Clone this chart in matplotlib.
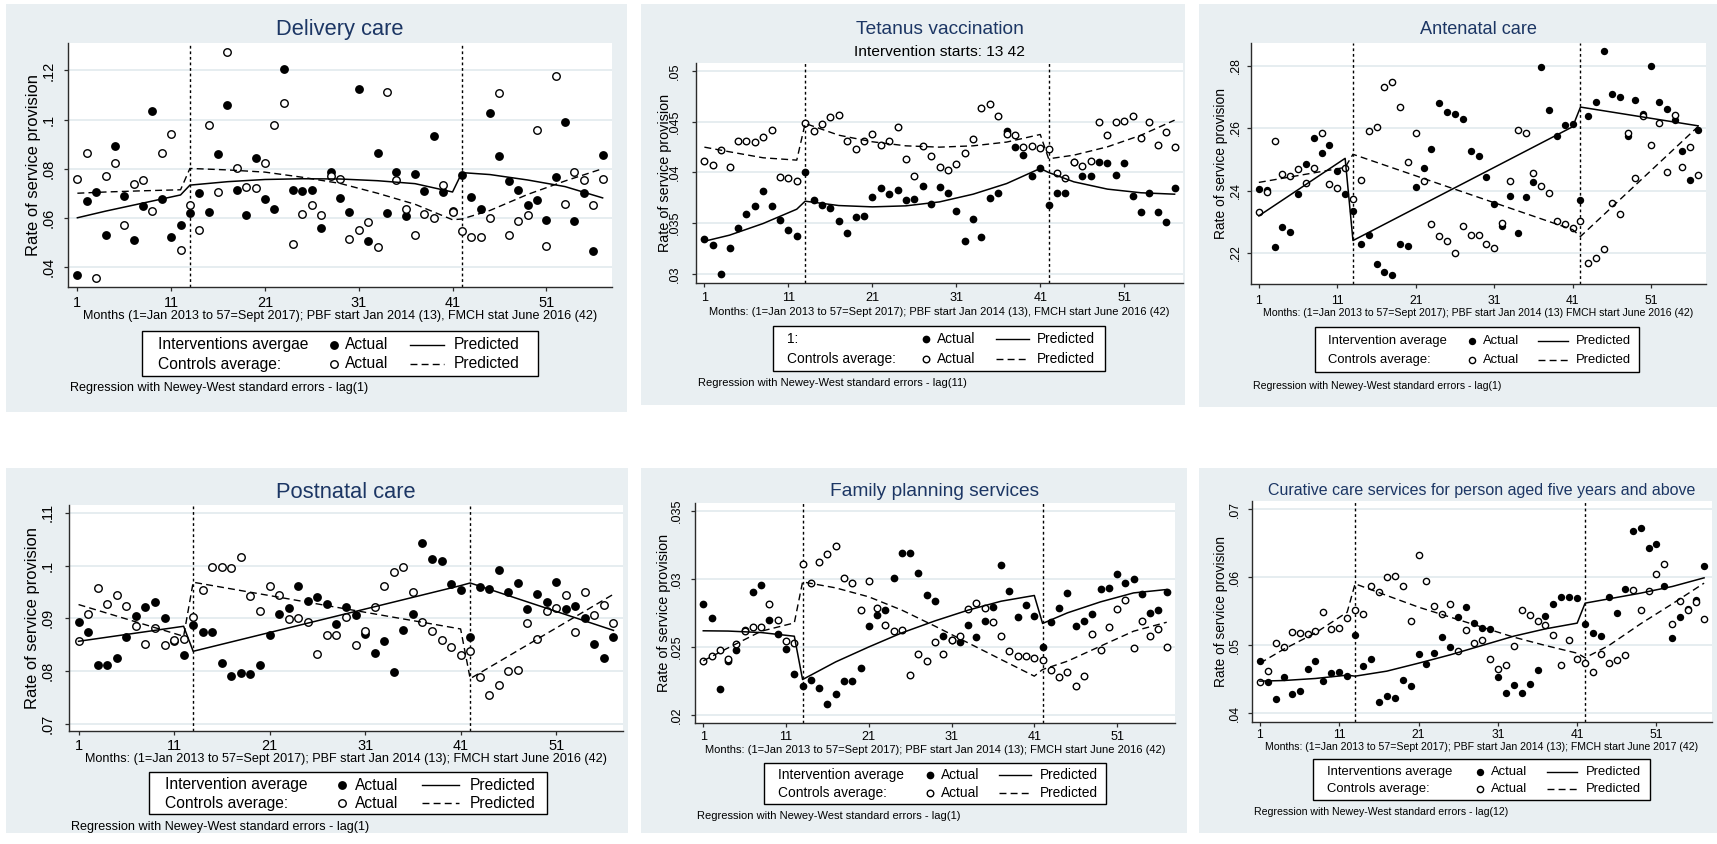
import matplotlib
matplotlib.use('Agg')
import matplotlib.pyplot as plt
from matplotlib.patches import Rectangle
from matplotlib.lines import Line2D

plt.rcParams['font.family'] = ['Liberation Sans', 'DejaVu Sans']

W, H = 1717, 844
months = list(range(1, 58))
xticks = [1, 11, 21, 31, 41, 51]
starts = [13, 42]

# ---- Delivery care ----
delivery_int = [.0365, .0667, .0707, .0528, .0893, .0688, .0510, .0646, .1035, .0675, .0522, .0571,
                .0619, .0702, .0624, .0860, .1059, .0712, .0611, .0844, .0676, .0635, .1205, .0712,
                .0710, .0713, .0559, .0786, .0679, .0624, .1124, .0507, .0864, .0620, .0785, .0607,
                .0780, .0709, .0933, .0703, .0626, .0774, .0683, .0635, .1027, .0850, .0751, .0714,
                .0653, .0672, .0589, .0766, .0992, .0588, .0702, .0464, .0857]
delivery_ctl = [.0757, .0863, .0354, .0769, .0822, .0569, .0736, .0754, .0629, .0864, .0940, .0469,
                .0652, .0550, .0978, .0706, .1276, .0803, .0724, .0721, .0822, .0978, .1067, .0495,
                .0615, .0652, .0611, .0771, .0758, .0514, .0551, .0584, .0482, .1114, .0752, .0635,
                .0531, .0616, .0599, .0732, .0623, .0548, .0520, .0520, .0600, .1110, .0529, .0585,
                .0611, .0956, .0484, .1176, .0657, .0785, .0752, .0654, .0757]
delivery_pm = [1, 4, 8, 12, 13, 17, 21, 25, 29, 33, 37, 41, 42, 45, 49, 53, 57]
delivery_int_pred = [.0600, .0627, .0660, .0693, .0733, .0747, .0756, .0759, .0758, .0751, .0739, .0705,
                     .0784, .0776, .0754, .0727, .0681]
delivery_ctl_pred = [.0700, .0705, .0710, .0714, .0801, .0795, .0786, .0765, .0740, .0700, .0655, .0592,
                     .0595, .0630, .0695, .0750, .0800]

# ---- Tetanus vaccination ----
tetanus_int = [.03345, .0328, .0300, .0326, .03454, .03589, .03674, .03816, .03668, .0353, .03434, .03378,
               .0400, .03727, .03681, .03648, .03526, .03408, .03559, .03566, .03763, .03849, .03786, .03826,
               .0373, .03743, .03865, .03694, .03852, .03796, .03622, .03322, .03546, .03368, .0375, .038,
               .04414, .0425, .04171, .03964, .04049, .03684, .03796, .03796, .04102, .03967, .03964, .04105,
               .04095, .0398, .04089, .0377, .03609, .038, .03609, .0351, .03849]
tetanus_ctl = [.04118, .04072, .04217, .04053, .04306, .04306, .04303, .04355, .04418, .0396, .03944, .03914,
               .04493, .04408, .04477, .04546, .04563, .04306, .0423, .04309, .04382, .0427, .04306, .04447,
               .04135, .03964, .04263, .04164, .04059, .04023, .04082, .04194, .04332, .04632, .04671, .04556,
               .04382, .04368, .04247, .04257, .0424, .04227, .03997, .03947, .04108, .04066, .04112, .045,
               .04365, .045, .0451, .04556, .04345, .045, .0427, .04398, .0425]
tetanus_pm = [1, 4, 8, 12, 13, 17, 21, 25, 29, 33, 37, 41, 42, 45, 49, 53, 57]
tetanus_int_pred = [.03322, .03382, .03497, .03638, .03717, .03674, .03661, .03671, .0371, .03786, .03891,
                    .0404, .0400, .03908, .03836, .038, .03786]
tetanus_ctl_pred = [.0425, .04204, .04145, .04122, .04484, .04368, .04303, .04263, .0425, .04263, .043,
                    .04375, .04135, .04171, .04253, .04368, .04516]

# ---- Antenatal care ----
antenatal_int = [.2405, .2402, .2219, .2282, .2266, .2390, .2486, .2569, .2520, .2547, .2464, .2390,
                 .2334, .2230, .2258, .2165, .2140, .2130, .2229, .2221, .2411, .2472, .2533, .2681,
                 .2651, .2646, .2629, .2528, .2509, .2443, .2357, .2287, .2381, .2264, .2379, .2428,
                 .2796, .2658, .2573, .2609, .2613, .2369, .2639, .2683, .2846, .2710, .2699, .2573,
                 .2689, .2646, .2799, .2684, .2662, .2626, .2528, .2435, .2595]
antenatal_ctl = [.2330, .2395, .2559, .2454, .2446, .2470, .2425, .2471, .2583, .2422, .2408, .2472,
                 .2372, .2433, .2591, .2604, .2731, .2748, .2667, .2492, .2584, .2431, .2294, .2256,
                 .2239, .2201, .2288, .2258, .2258, .2229, .2217, .2296, .2430, .2594, .2585, .2456,
                 .2413, .2392, .2304, .2293, .2280, .2304, .2168, .2183, .2213, .2361, .2325, .2584,
                 .2440, .2640, .2546, .2616, .2458, .2642, .2475, .2538, .2451]
antenatal_pm = [1, 12, 13, 41, 42, 57]
antenatal_int_pred = [.2319, .2503, .2240, .2604, .2667, .2607]
antenatal_ctl_pred = [.2426, .2474, .2516, .2275, .2253, .2605]

# ---- Postnatal care ----
postnatal_int = [.08924, .0874, .0812, .0812, .08247, .08646, .09044, .09215, .09316, .0900, .08576, .0831,
                 .0888, .08747, .08747, .08152, .07899, .07968, .07943, .08108, .0869, .09089, .0919, .0962,
                 .09323, .09405, .09278, .08892, .09209, .09057, .08696, .08342, .0857, .07981, .08772, .09082,
                 .10437, .1012, .10095, .09646, .09538, .08639, .09589, .09551, .09911, .09506, .09677, .09171,
                 .09456, .09304, .09684, .09184, .0924, .0900, .08513, .0824, .08639]
postnatal_ctl = [.08576, .09082, .09582, .09278, .09443, .09228, .08861, .08519, .08816, .0850, .0858, .08614,
                 .09025, .09532, .09981, .09981, .09962, .10158, .09418, .09133, .09608, .09449, .08981, .09013,
                 .0893, .08316, .08684, .08684, .09025, .0850, .08753, .09222, .0962, .09886, .09968, .09494,
                 .08937, .08766, .08595, .08462, .08297, .08386, .07886, .07538, .0774, .07994, .08013, .08905,
                 .08614, .09146, .09203, .09449, .08747, .09506, .0907, .09253, .08905]
postnatal_pm = [1, 12, 13, 41, 42, 57]
postnatal_int_pred = [.08563, .08848, .08373, .0962, .0967, .0877]
postnatal_ctl_pred = [.0926, .08658, .09684, .08797, .07854, .09456]

# ---- Family planning services ----
family_int = [.02815, .02712, .02191, .024, .02481, .02623, .02906, .02957, .02697, .02594, .02484, .02302,
              .02216, .0226, .02199, .02081, .02155, .0225, .0225, .02346, .02653, .02736, .02771, .03011,
              .03195, .03193, .03041, .02881, .02839, .02577, .02552, .02538, .0266, .02574, .0269, .02795,
              .03102, .02911, .02724, .0281, .02729, .02503, .02682, .0279, .02898, .02655, .02692, .02746,
              .02928, .02933, .03036, .02974, .02999, .02889, .02749, .02771, .02903]
family_ctl = [.02398, .02432, .02474, .02412, .02523, .0262, .02648, .02646, .02815, .02702, .02542, .0253,
              .03112, .0297, .03124, .03188, .0324, .03006, .02972, .02773, .02984, .02788, .02663, .02619,
              .02628, .02292, .02447, .02395, .02538, .02449, .0255, .02584, .02778, .02825, .0279, .02682,
              .02584, .02469, .0243, .02432, .02415, .02407, .02331, .02277, .02317, .02209, .02285, .02594,
              .02479, .02648, .02781, .02849, .02493, .02692, .02584, .02633, .025]
family_pm = [1, 4, 8, 12, 13, 17, 21, 25, 29, 33, 37, 41, 42, 45, 49, 53, 57]
family_int_pred = [.02619, .02617, .02606, .02579, .0226, .0239, .0250, .02604, .02692, .02771, .02837,
                   .02879, .02673, .02751, .02832, .02898, .02923]
family_ctl_pred = [.02398, .02493, .02616, .02677, .02979, .02935, .02869, .02771, .02653, .0253, .02407,
                   .02285, .02334, .02395, .02506, .02616, .02682]

# ---- Curative care ----
curative_int = [.0477, .04451, .04201, .04525, .04275, .04333, .04647, .04765, .0448, .04593, .04608, .04549,
                .05147, .04696, .04794, .04167, .04255, .04221, .04485, .04402, .04873, .04716, .04882, .05118,
                .04966, .05417, .05554, .05319, .0525, .0524, .04539, .04299, .04417, .04294, .04436, .04642,
                .05431, .05603, .05711, .05711, .05691, .05314, .05186, .05137, .05706, .05475, .05828, .06676,
                .06716, .06422, .06495, .05868, .05103, .05407, .05529, .05657, .06162]
curative_ctl = [.04461, .04618, .05029, .04971, .05196, .05186, .05162, .05211, .05485, .05235, .05255, .05402,
                .0551, .05456, .05863, .05779, .06, .06015, .05863, .05358, .06324, .05941, .05578, .05461,
                .05598, .04912, .05221, .05029, .05074, .04794, .04652, .04706, .04985, .0552, .05446, .05353,
                .05294, .05147, .04711, .05069, .04799, .04745, .04603, .04877, .04745, .04775, .04858, .05809,
                .0551, .05794, .06049, .06196, .05309, .05647, .0552, .0563, .05387]
curative_pm = [1, 4, 8, 12, 13, 17, 21, 25, 29, 33, 37, 41, 42, 45, 49, 53, 57]
curative_int_pred = [.04471, .0448, .0451, .04559, .04544, .04618, .04735, .04858, .04995, .05132, .0524,
                     .05324, .05618, .05681, .05765, .05863, .0599]
curative_ctl_pred = [.04735, .0494, .0518, .05485, .05902, .0573, .05559, .05412, .05265, .05118, .04995,
                     .04882, .04814, .04995, .05314, .05608, .05912]

BG = '#e9eff2'
GRID = '#dfe8ec'
TITLE_C = '#1c3664'
AX_C = '#2b2b2b'

fig = plt.figure(figsize=(W / 100, H / 100), dpi=100)
fig.patch.set_facecolor('white')


def fx(x):
    return x / W


def fy(y):
    return 1 - y / H


def ftext(x, y, s, **kw):
    fig.text(fx(x), fy(y), s, **kw)


def draw_panel(p):
    s = p['s']
    bx0, by0, bx1, by1 = p['bg']
    fig.add_artist(Rectangle((fx(bx0), fy(by1)), (bx1 - bx0) / W, (by1 - by0) / H,
                             transform=fig.transFigure, fc=BG, ec='none', zorder=-5))
    x0, y0, x1, y1 = p['ax']
    ax = fig.add_axes([fx(x0), fy(y1), (x1 - x0) / W, (y1 - y0) / H])
    ax.set_facecolor('white')

    ax.scatter(months, p['int'], s=(5.3 * s) ** 2, c='black', zorder=3, linewidths=0)
    ax.scatter(months, p['ctl'], s=(4.5 * s) ** 2, facecolors='white', edgecolors='black',
               linewidths=1.0, zorder=3)
    ax.plot(p['pm'], p['int_pred'], color='black', lw=1.1, zorder=4)
    ax.plot(p['pm'], p['ctl_pred'], color='black', lw=1.0, ls=(0, (5, 3)), zorder=4)
    for m in starts:
        ax.axvline(m, color='black', lw=1.0, ls=(0, (2, 2)), zorder=2)

    ax.set_xlim(0.0, 58.0)
    ax.set_ylim(*p['ylim'])
    ax.set_xticks(xticks)
    ax.set_yticks(p['yticks'])
    ax.set_yticklabels(p['ylabels'])
    ax.yaxis.grid(True, color=GRID, lw=1.1, zorder=0)
    ax.set_axisbelow(True)
    for side in ['top', 'right']:
        ax.spines[side].set_visible(False)
    for side in ['left', 'bottom']:
        ax.spines[side].set_color(AX_C)
        ax.spines[side].set_linewidth(1.0)

    tick_fs = 8.7 * s
    fs_px = tick_fs * 100 / 72
    tl = 4.0
    xpad = (p['xt_y'] - y1) - tl - 0.55 * fs_px
    ypad = p['yt_dx'] - tl - 0.57 * fs_px
    ax.tick_params(axis='x', length=tl * 0.72, width=0.9, color=AX_C, pad=xpad * 0.72,
                   labelsize=tick_fs)
    ax.tick_params(axis='y', length=tl * 0.72, width=0.9, color=AX_C, pad=ypad * 0.72,
                   labelsize=tick_fs)
    for t in ax.get_yticklabels():
        t.set_rotation(90)
        t.set_va('center')
        t.set_ha('right')

    ax.set_ylabel('Rate of service provision', fontsize=9.9 * s)
    ax.yaxis.set_label_coords(-p['yl_dx'] / (x1 - x0), 0.5)
    ax.yaxis.label.set_va('center')

    cx = (x0 + x1) / 2
    ftext(cx, p['title_y'], p['title'], ha='center', va='center',
          fontsize=p.get('title_fs', 13.1 * s), color=TITLE_C)
    if p.get('subtitle'):
        ftext(cx, p['sub_y'], p['subtitle'], ha='center', va='center', fontsize=10.6 * s)
    ftext(cx, p['xl_y'], p['xlabel'], ha='center', va='center', fontsize=7.6 * s)
    ftext(x0 + 2, p['note_y'], p['note'], ha='left', va='center', fontsize=7.6 * s)

    # legend box
    lx0, ly0, lx1, ly1 = p['leg_box']
    fig.add_artist(Rectangle((fx(lx0), fy(ly1)), (lx1 - lx0) / W, (ly1 - ly0) / H,
                             transform=fig.transFigure, fc='white', ec='black', lw=1.0, zorder=5))
    tx, mx, atx, l0, l1, ptx = p['leg_cols']
    leg_fs = 9.4 * s
    for row, lab, filled, ls in [(p['leg_rows'][0], p['leg_labels'][0], True, '-'),
                                 (p['leg_rows'][1], p['leg_labels'][1], False, (0, (5, 3)))]:
        ftext(tx, row, lab, ha='left', va='center', fontsize=leg_fs, zorder=6)
        ftext(atx, row, 'Actual', ha='left', va='center', fontsize=leg_fs, zorder=6)
        ftext(ptx, row, 'Predicted', ha='left', va='center', fontsize=leg_fs, zorder=6)
        if filled:
            fig.add_artist(Line2D([fx(mx)], [fy(row)], transform=fig.transFigure, marker='o',
                                  ms=5.3 * s, mfc='black', mec='black', mew=0, ls='none', zorder=6))
        else:
            fig.add_artist(Line2D([fx(mx)], [fy(row)], transform=fig.transFigure, marker='o',
                                  ms=4.5 * s, mfc='white', mec='black', mew=1.0, ls='none', zorder=6))
        fig.add_artist(Line2D([fx(l0), fx(l1)], [fy(row), fy(row)], transform=fig.transFigure,
                              color='black', lw=1.0, ls=ls, zorder=6))


xl_a = 'Months: (1=Jan 2013 to 57=Sept 2017); PBF start Jan 2014 (13); FMCH start June 2016 (42)'
panels = [
    dict(title='Delivery care', s=1.2, bg=(6, 4, 627, 412), ax=(68, 43, 612, 287),
         int=delivery_int, ctl=delivery_ctl, pm=delivery_pm,
         int_pred=delivery_int_pred, ctl_pred=delivery_ctl_pred,
         ylim=(.0318, .1312), yticks=[.04, .06, .08, .1, .12], ylabels=['.04', '.06', '.08', '.1', '.12'],
         title_y=29, xt_y=304, yt_dx=20.5, yl_dx=35, xl_y=316,
         xlabel='Months (1=Jan 2013 to 57=Sept 2017); PBF start Jan 2014 (13), FMCH stat June 2016 (42)',
         leg_box=(142, 331, 538, 376), leg_rows=(344.5, 364),
         leg_cols=(157.6, 333.5, 345.2, 410.4, 444.4, 454.2),
         leg_labels=('Interventions avergae', 'Controls average:'),
         note_y=388.5, note='Regression with Newey-West standard errors - lag(1)'),
    dict(title='Tetanus vaccination', subtitle='Intervention starts: 13 42', s=1.05,
         bg=(641, 4, 1185, 405), ax=(696, 63, 1183, 283),
         int=tetanus_int, ctl=tetanus_ctl, pm=tetanus_pm,
         int_pred=tetanus_int_pred, ctl_pred=tetanus_ctl_pred,
         ylim=(.0291, .0508), yticks=[.03, .035, .04, .045, .05],
         ylabels=['.03', '.035', '.04', '.045', '.05'],
         title_y=29, sub_y=52, xt_y=299, yt_dx=22.3, yl_dx=31.4, xl_y=311.7,
         xlabel='Months: (1=Jan 2013 to 57=Sept 2017); PBF start Jan 2014 (13), FMCH start June 2016 (42)',
         leg_box=(773, 326, 1105, 371), leg_rows=(339, 358.7),
         leg_cols=(786.7, 926, 937.3, 996.3, 1029.1, 1037.1),
         leg_labels=('1:', 'Controls average:'),
         note_y=383.3, note='Regression with Newey-West standard errors - lag(11)'),
    dict(title='Antenatal care', s=1.0, bg=(1199, 4, 1717, 407), ax=(1251, 43, 1706, 284),
         int=antenatal_int, ctl=antenatal_ctl, pm=antenatal_pm,
         int_pred=antenatal_int_pred, ctl_pred=antenatal_ctl_pred,
         ylim=(.2101, .2872), yticks=[.22, .24, .26, .28], ylabels=['.22', '.24', '.26', '.28'],
         title_y=29, xt_y=301.7, yt_dx=16.3, yl_dx=30.5, xl_y=313.3,
         xlabel='Months: (1=Jan 2013 to 57=Sept 2017); PBF start Jan 2014 (13) FMCH start June 2016 (42)',
         leg_box=(1315, 327, 1639, 372), leg_rows=(340.7, 360.3),
         leg_cols=(1328.3, 1471.8, 1482.7, 1537.9, 1567.6, 1576.2),
         leg_labels=('Intervention average', 'Controls average:'),
         note_y=385.7, note='Regression with Newey-West standard errors - lag(1)'),
    dict(title='Postnatal care', s=1.2, bg=(6, 468, 628, 833), ax=(69, 505, 623, 731),
         int=postnatal_int, ctl=postnatal_ctl, pm=postnatal_pm,
         int_pred=postnatal_int_pred, ctl_pred=postnatal_ctl_pred,
         ylim=(.0686, .1115), yticks=[.07, .08, .09, .1, .11], ylabels=['.07', '.08', '.09', '.1', '.11'],
         title_y=492.3, xt_y=746.7, yt_dx=22.7, yl_dx=36, xl_y=759, xlabel=xl_a,
         leg_box=(149, 772, 547, 814), leg_rows=(785, 803.3),
         leg_cols=(165.1, 341.6, 354.5, 422.1, 459.2, 469.3),
         leg_labels=('Intervention average', 'Controls average:'),
         note_y=826.7, note='Regression with Newey-West standard errors - lag(1)'),
    dict(title='Family planning services', s=1.05, bg=(641, 468, 1187, 833), ax=(695, 503, 1175, 723),
         int=family_int, ctl=family_ctl, pm=family_pm,
         int_pred=family_int_pred, ctl_pred=family_ctl_pred,
         ylim=(.0194, .0356), yticks=[.02, .025, .03, .035], ylabels=['.02', '.025', '.03', '.035'],
         title_y=491.7, xt_y=738.3, yt_dx=19.4, yl_dx=31.5, xl_y=750, xlabel=xl_a,
         leg_box=(764, 763, 1106, 804), leg_rows=(775, 792.7),
         leg_cols=(777.6, 929.6, 940.9, 999.2, 1031, 1040.1),
         leg_labels=('Intervention average', 'Controls average:'),
         note_y=815.7, note='Regression with Newey-West standard errors - lag(1)'),
    dict(title='Curative care services for person aged five years and above', title_fs=11.5, s=1.0,
         bg=(1199, 468, 1717, 833), ax=(1252, 501, 1712, 722),
         int=curative_int, ctl=curative_ctl, pm=curative_pm,
         int_pred=curative_int_pred, ctl_pred=curative_ctl_pred,
         ylim=(.0387, .0712), yticks=[.04, .05, .06, .07], ylabels=['.04', '.05', '.06', '.07'],
         title_y=490, xt_y=736, yt_dx=18, yl_dx=31.5, xl_y=746.7,
         xlabel='Months: (1=Jan 2013 to 57=Sept 2017); PBF start Jan 2014 (13); FMCH start June 2017 (42)',
         leg_box=(1313, 759, 1650, 800), leg_rows=(771.7, 789.3),
         leg_cols=(1327.3, 1480.3, 1490.9, 1547.1, 1576.9, 1586.1),
         leg_labels=('Interventions average', 'Controls average:'),
         note_y=811.7, note='Regression with Newey-West standard errors - lag(12)'),
]

for p in panels:
    draw_panel(p)

fig.savefig('out.png', dpi=100)
